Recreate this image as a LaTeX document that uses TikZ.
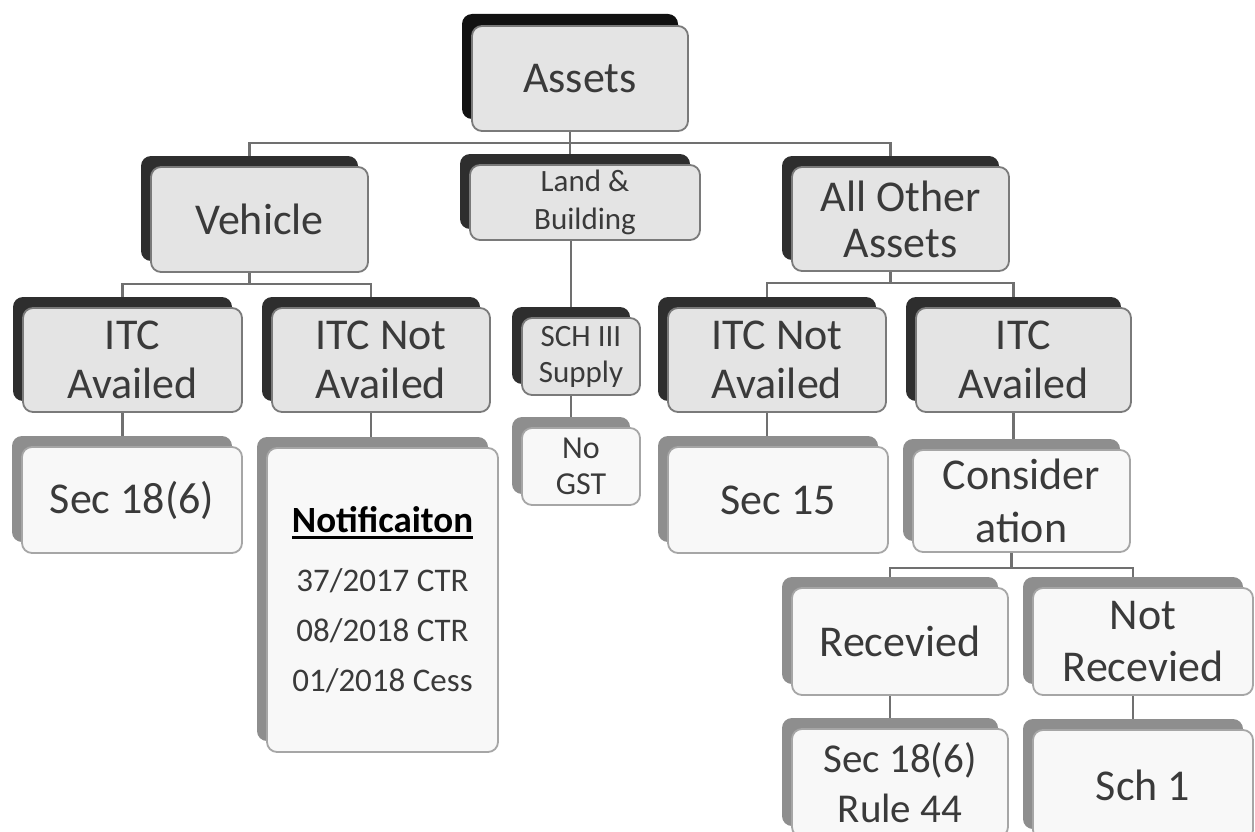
\documentclass[tikz,border=0pt]{standalone}
\usepackage{fontspec}
\setmainfont{Carlito}
\usetikzlibrary{shadows}

\definecolor{txt}{HTML}{3A3A3A}
\definecolor{faceA}{HTML}{E4E4E4}
\definecolor{edgeA}{HTML}{7A7A7A}
\definecolor{backA}{HTML}{2E2E2E}
\definecolor{backTop}{HTML}{111111}
\definecolor{faceB}{HTML}{F8F8F8}
\definecolor{edgeB}{HTML}{A6A6A6}
\definecolor{backB}{HTML}{8E8E8E}
\definecolor{lineC}{HTML}{707070}

% underline drawn as a rule of its own thickness
\newcommand\ulbar[1]{\setbox0\hbox{#1}\rlap{\raisebox{-6pt}{\rule{\wd0}{2.8pt}}}\box0}

\pgfdeclarelayer{bg}
\pgfsetlayers{bg,main}

\begin{document}
\begin{tikzpicture}[x=1pt,y=-1pt,
  box/.style={rectangle, rounded corners=10pt, line width=1.8pt, inner sep=0pt,
    align=center, text=txt, font=\fontsize{44}{49}\selectfont},
  upper/.style={box, draw=edgeA, fill=faceA,
    general shadow={fill=backA, shadow xshift=-10pt, shadow yshift=11pt}},
  topmost/.style={box, draw=edgeA, fill=faceA,
    general shadow={fill=backTop, shadow xshift=-10pt, shadow yshift=12pt}},
  lower/.style={box, draw=edgeB, fill=faceB,
    general shadow={fill=backB, shadow xshift=-10pt, shadow yshift=11pt}},
  dims/.style 2 args={minimum width=#1pt, minimum height=#2pt},
  conn/.style={draw=lineC, line width=2.2pt}]

\useasboundingbox (0,0) rectangle (1255,832);
\clip (0,0) rectangle (1255,832);

% level 1 and 2
\node[topmost, dims={216}{105}] (assets) at (580,78.5) {Assets};
\node[upper, dims={217}{105}] (vehicle) at (259.5,219.5) {Vehicle};
\node[upper, dims={230}{75}, font=\fontsize{31}{38}\selectfont] (land) at (585,202.5) {Land \&\\Building};
\node[upper, dims={217}{104}, font=\fontsize{44}{46}\selectfont] (allother) at (900.5,219) {All Other\\Assets};

% level 3
\node[upper, dims={219}{104}] (itca) at (132.5,360) {ITC\\Availed};
\node[upper, dims={218}{104}] (itcna) at (381,360) {ITC Not\\Availed};
\node[upper, dims={118}{77}, font=\fontsize{31}{36}\selectfont] (sch) at (581,356.5) {SCH III\\Supply};
\node[upper, dims={218}{104}] (itcnb) at (777,360) {ITC Not\\Availed};
\node[upper, dims={215}{104}] (itcb) at (1023.5,360) {ITC\\Availed};

% level 4
\node[lower, dims={220}{106}] (seca) at (132,500) {Sec 18(6)};
\node[lower, dims={231}{304}, font=\fontsize{33}{50}\selectfont] (notif) at (382.5,600)
  {{\color{black}\fontsize{37}{50}\selectfont\bfseries\ulbar{Notificaiton}}\\[9pt]
   37/2017 CTR\\08/2018 CTR\\01/2018 Cess};
\node[lower, dims={118}{77}, font=\fontsize{32}{36}\selectfont] (nogst) at (581,466.5) {No\\GST};
\node[lower, dims={220}{106}] (secf) at (778,500) {Sec 15};
\node[lower, dims={217}{102}, font=\fontsize{44}{53}\selectfont] (consid) at (1021.5,501) {Consider\\ation};

% level 5 and 6
\node[lower, dims={216}{107}] (recv) at (900,641.5) {Recevied};
\node[lower, dims={220}{107}, font=\fontsize{44}{52}\selectfont] (nrecv) at (1143,641.5) {Not\\Recevied};
\node[lower, dims={216}{108}, font=\fontsize{41}{59}\selectfont] (secr) at (900,783) {Sec 18(6)\\[-9pt]Rule 44};
\node[lower, dims={220}{110}] (schone) at (1143,785) {Sch 1};

% connectors behind the boxes
\begin{pgfonlayer}{bg}
  \draw[conn] ([xshift=-10pt]assets.south) -- ++(0,11) coordinate (ja);
  \draw[conn] ([xshift=-10pt]vehicle.north) |- (ja);
  \draw[conn] (ja) -- (ja |- land.north);
  \draw[conn] ([xshift=-10pt]allother.north) |- (ja);

  \draw[conn] ([xshift=-10pt]vehicle.south) -- ++(0,11) coordinate (jv);
  \draw[conn] ([xshift=-10pt]itca.north) |- (jv);
  \draw[conn] ([xshift=-10pt]itcna.north) |- (jv);

  \draw[conn] ([xshift=-10pt]allother.south) -- ++(0,11) coordinate (jo);
  \draw[conn] ([xshift=-10pt]itcnb.north) |- (jo);
  \draw[conn] ([xshift=-10pt]itcb.north) |- (jo);

  \draw[conn] ([xshift=-10pt]sch.north |- land.south) -- ([xshift=-10pt]sch.north);
  \draw[conn] ([xshift=-10pt]itca.south) -- ([xshift=-10pt]itca.south |- seca.north);
  \draw[conn] ([xshift=-10pt]itcna.south) -- ([xshift=-10pt]itcna.south |- notif.north);
  \draw[conn] ([xshift=-10pt]sch.south) -- ([xshift=-10pt]sch.south |- nogst.north);
  \draw[conn] ([xshift=-10pt]itcnb.south) -- ([xshift=-10pt]itcnb.south |- secf.north);
  \draw[conn] ([xshift=-10pt]itcb.south) -- ([xshift=-10pt]itcb.south |- consid.north);

  \draw[conn] ([xshift=-10pt]consid.south) -- ++(0,15) coordinate (jc);
  \draw[conn] ([xshift=-10pt]recv.north) |- (jc);
  \draw[conn] ([xshift=-10pt]nrecv.north) |- (jc);

  \draw[conn] ([xshift=-10pt]recv.south) -- ([xshift=-10pt]recv.south |- secr.north);
  \draw[conn] ([xshift=-10pt]nrecv.south) -- ([xshift=-10pt]nrecv.south |- schone.north);
\end{pgfonlayer}
\end{tikzpicture}
\end{document}
